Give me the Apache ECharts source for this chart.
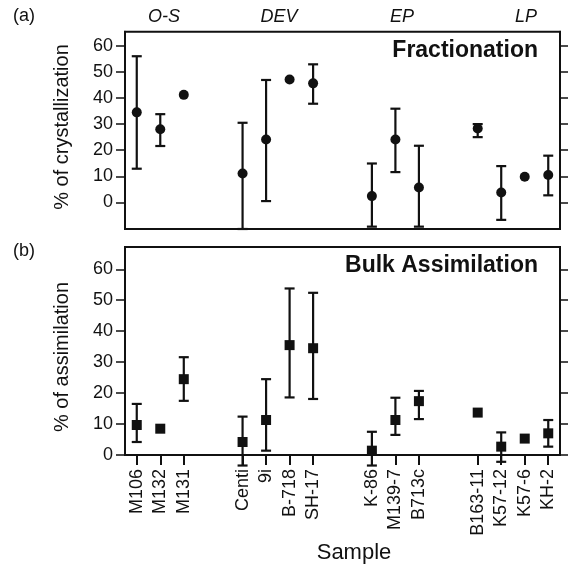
<!DOCTYPE html>
<html>
<head>
<meta charset="utf-8">
<script src="https://cdn.jsdelivr.net/npm/echarts@6/dist/echarts.min.js"></script>
<style>
  html, body { margin: 0; padding: 0; background: #fff; }
  #chart { width: 569px; height: 570px; }
</style>
</head>
<body>
<div id="chart"></div>
<script>
// Sample groups (tectonic stages) and their samples, left to right
const groupNames = ['O-S', 'DEV', 'EP', 'LP'];
const groupSamples = [
  ['M106', 'M132', 'M131'],
  ['Centi', '9i', 'B-718', 'SH-17'],
  ['K-86', 'M139-7', 'B713c'],
  ['B163-11', 'K57-12', 'K57-6', 'KH-2']
];

// (a) fractional crystallization, % (best estimate and range)
const fracValue = [34.5, 28.0, 41.2, 11.1, 24.1, 47.1, 45.6, 2.4, 24.1, 5.7, 28.3, 3.8, 9.8, 10.5];
const fracLow   = [12.9, 21.6, null, -10.2, 0.5, null, 37.8, -9.3, 11.6, -9.3, 25.0, -6.7, null, 2.7];
const fracHigh  = [56.0, 33.8, null, 30.5, 46.9, null, 52.9, 14.9, 35.9, 21.7, 30.0, 13.9, null, 17.9];

// (b) bulk assimilation, % (best estimate and range)
const assimValue = [9.7, 8.5, 24.5, 4.2, 11.3, 35.5, 34.5, 1.4, 11.3, 17.4, 13.7, 2.7, 5.3, 7.0];
const assimLow   = [4.2, null, 17.5, -3.4, 1.4, 18.6, 18.1, -3.4, 6.5, 11.6, null, -2.2, null, 2.7];
const assimHigh  = [16.5, null, 31.6, 12.4, 24.5, 53.8, 52.4, 7.5, 18.5, 20.7, null, 7.3, null, 11.3];

// y-axis tick values shown on both panels
const yTicks = [0, 10, 20, 30, 40, 50, 60];

// Build the sample axis: one empty slot between samples, wider gaps between groups
const slots = [''];
const sampleSlot = [];
groupSamples.forEach((grp, gi) => {
  if (gi > 0) slots.push('', '', '', '');
  grp.forEach((s, si) => {
    if (si > 0) slots.push('');
    sampleSlot.push(slots.length);
    slots.push(s);
  });
});
slots.push('');

const INK = '#111';
const FONT = "'Liberation Sans', Arial, Helvetica, sans-serif";

function points(values) {
  return values.map((v, i) => [sampleSlot[i], v]);
}
function ranges(values, low, high) {
  const out = [];
  values.forEach((v, i) => {
    if (low[i] != null && high[i] != null) out.push([sampleSlot[i], v, low[i], high[i]]);
  });
  return out;
}

function renderErrorBar(params, api) {
  const x = api.value(0);
  const top = api.coord([x, api.value(3)]);
  const bot = api.coord([x, api.value(2)]);
  const w = 5;
  const style = { stroke: INK, lineWidth: 2.2 };
  return {
    type: 'group',
    children: [
      { type: 'line', shape: { x1: top[0], y1: top[1], x2: bot[0], y2: bot[1] }, style },
      { type: 'line', shape: { x1: top[0] - w, y1: top[1], x2: top[0] + w, y2: top[1] }, style },
      { type: 'line', shape: { x1: bot[0] - w, y1: bot[1], x2: bot[0] + w, y2: bot[1] }, style }
    ]
  };
}

function yAxisPair(gridIndex, min, max) {
  const common = {
    type: 'value',
    gridIndex,
    min,
    max,
    splitLine: { show: false },
    axisLine: { show: true, onZero: false, lineStyle: { color: INK, width: 2 } },
    axisTick: { show: true, inside: false, length: 9, customValues: yTicks, lineStyle: { color: INK, width: 1.5 } }
  };
  return [
    Object.assign({}, common, {
      position: 'left',
      axisLabel: { show: true, customValues: yTicks, margin: 12, fontSize: 18, color: INK, fontFamily: FONT }
    }),
    Object.assign({}, common, {
      position: 'right',
      axisTick: Object.assign({}, common.axisTick, { length: 8 }),
      axisLabel: { show: false }
    })
  ];
}

const chart = echarts.init(document.getElementById('chart'), null, { renderer: 'canvas' });

const option = {
  backgroundColor: '#fff',
  animation: false,
  grid: [
    { left: 125, right: 9, top: 31.7, height: 197.3, show: true, borderColor: INK, borderWidth: 2 },
    { left: 125, right: 9, top: 247, height: 208, show: true, borderColor: INK, borderWidth: 2 }
  ],
  xAxis: [
    {
      type: 'category', gridIndex: 0, data: slots, boundaryGap: false, position: 'bottom',
      axisLine: { show: true, onZero: false, lineStyle: { color: INK, width: 2 } },
      axisTick: { show: false }, axisLabel: { show: false }, splitLine: { show: false }
    },
    {
      type: 'category', gridIndex: 1, data: slots, boundaryGap: false, position: 'bottom',
      axisLine: { show: true, onZero: false, lineStyle: { color: INK, width: 2 } },
      axisTick: {
        show: true, inside: false, length: 10,
        interval: (idx, name) => name !== '',
        lineStyle: { color: INK, width: 2 }
      },
      axisLabel: {
        show: true, rotate: 90, margin: 14, fontSize: 18, color: INK, fontFamily: FONT,
        interval: (idx, name) => name !== ''
      },
      splitLine: { show: false }
    }
  ],
  yAxis: [].concat(yAxisPair(0, -10.2, 65.4), yAxisPair(1, 0, 67.2)),
  series: [
    {
      type: 'custom', name: 'crystallization range', xAxisIndex: 0, yAxisIndex: 0,
      data: ranges(fracValue, fracLow, fracHigh), renderItem: renderErrorBar, clip: false,
      encode: { x: 0, y: [2, 3] }, z: 3
    },
    {
      type: 'scatter', name: 'crystallization', xAxisIndex: 0, yAxisIndex: 0,
      data: points(fracValue), symbol: 'circle', symbolSize: 10,
      itemStyle: { color: INK, opacity: 1 }, z: 4
    },
    {
      type: 'custom', name: 'assimilation range', xAxisIndex: 1, yAxisIndex: 2,
      data: ranges(assimValue, assimLow, assimHigh), renderItem: renderErrorBar, clip: false,
      encode: { x: 0, y: [2, 3] }, z: 3
    },
    {
      type: 'scatter', name: 'assimilation', xAxisIndex: 1, yAxisIndex: 2,
      data: points(assimValue), symbol: 'rect', symbolSize: 10,
      itemStyle: { color: INK, opacity: 1 }, z: 4
    }
  ],
  graphic: [
    { type: 'text', left: 13, top: 7, style: { text: '(a)', font: '18px ' + FONT, fill: INK } },
    { type: 'text', left: 13, top: 242, style: { text: '(b)', font: '18px ' + FONT, fill: INK } },
    { type: 'text', x: 164, y: 17, style: { text: groupNames[0], font: 'italic 18px ' + FONT, fill: INK, align: 'center', verticalAlign: 'middle' } },
    { type: 'text', x: 279, y: 17, style: { text: groupNames[1], font: 'italic 18px ' + FONT, fill: INK, align: 'center', verticalAlign: 'middle' } },
    { type: 'text', x: 402, y: 17, style: { text: groupNames[2], font: 'italic 18px ' + FONT, fill: INK, align: 'center', verticalAlign: 'middle' } },
    { type: 'text', x: 526, y: 17, style: { text: groupNames[3], font: 'italic 18px ' + FONT, fill: INK, align: 'center', verticalAlign: 'middle' } },
    { type: 'text', x: 538, y: 51, style: { text: 'Fractionation', font: 'bold 23px ' + FONT, fill: INK, align: 'right', verticalAlign: 'middle' } },
    { type: 'text', x: 538, y: 266, style: { text: 'Bulk Assimilation', font: 'bold 23px ' + FONT, fill: INK, align: 'right', verticalAlign: 'middle' } },
    { type: 'text', x: 62, y: 127, rotation: Math.PI / 2, style: { text: '% of crystallization', font: '20px ' + FONT, fill: INK, align: 'center', verticalAlign: 'middle' } },
    { type: 'text', x: 62, y: 357, rotation: Math.PI / 2, style: { text: '% of assimilation', font: '20px ' + FONT, fill: INK, align: 'center', verticalAlign: 'middle' } },
    { type: 'text', x: 354, y: 553, style: { text: 'Sample', font: '22px ' + FONT, fill: INK, align: 'center', verticalAlign: 'middle' } }
  ]
};

chart.setOption(option);
</script>
</body>
</html>
